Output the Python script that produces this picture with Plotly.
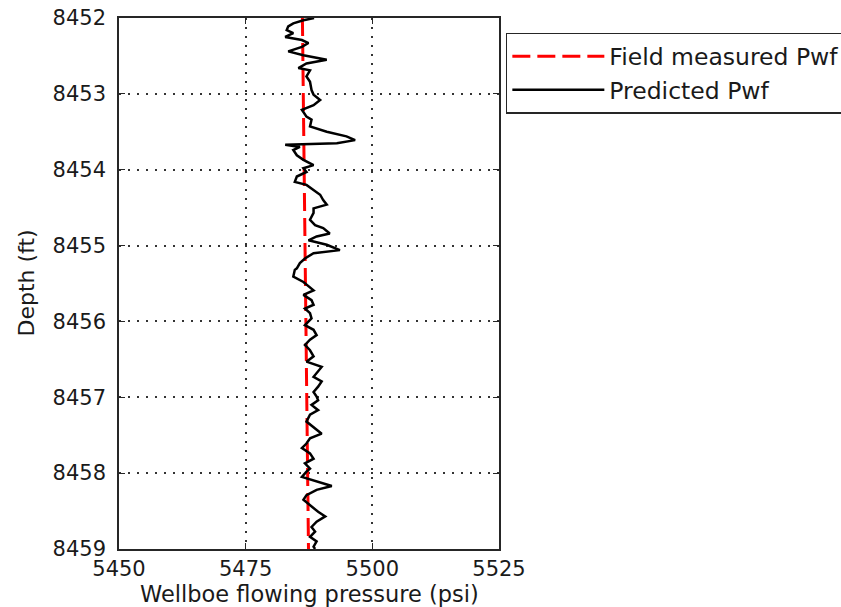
import plotly.graph_objects as go

# Predicted Pwf trace
pred_depth = [8452.00, 8452.03, 8452.07, 8452.11, 8452.16, 8452.20, 8452.25, 8452.29, 8452.33, 8452.38,
              8452.44, 8452.49, 8452.55, 8452.60, 8452.66, 8452.69, 8452.77, 8452.84, 8452.95, 8453.01,
              8453.08, 8453.15, 8453.21, 8453.30, 8453.34, 8453.43, 8453.50, 8453.56, 8453.61, 8453.65,
              8453.67, 8453.70, 8453.74, 8453.81, 8453.87, 8453.94, 8453.98, 8454.03, 8454.09, 8454.16,
              8454.20, 8454.27, 8454.33, 8454.40, 8454.46, 8454.51, 8454.57, 8454.66, 8454.73, 8454.77,
              8454.84, 8454.88, 8454.93, 8454.99, 8455.06, 8455.10, 8455.17, 8455.23, 8455.30, 8455.32,
              8455.41, 8455.48, 8455.54, 8455.59, 8455.65, 8455.72, 8455.78, 8455.83, 8455.89, 8455.96,
              8456.05, 8456.11, 8456.18, 8456.24, 8456.31, 8456.38, 8456.46, 8456.53, 8456.60, 8456.66,
              8456.73, 8456.79, 8456.86, 8456.93, 8456.99, 8457.04, 8457.10, 8457.17, 8457.23, 8457.32,
              8457.41, 8457.48, 8457.54, 8457.61, 8457.67, 8457.74, 8457.81, 8457.87, 8457.94, 8457.98,
              8458.05, 8458.11, 8458.17, 8458.22, 8458.29, 8458.35, 8458.42, 8458.51, 8458.57, 8458.64,
              8458.71, 8458.77, 8458.84, 8458.90, 8458.97, 8459.00]
pred_pwf = [5488.5, 5486.4, 5484.4, 5483.4, 5483.1, 5484.4, 5482.8, 5486.1, 5487.4, 5486.1,
            5483.4, 5486.4, 5491.0, 5487.0, 5485.4, 5487.7, 5487.0, 5487.7, 5488.0, 5488.4,
            5489.7, 5488.4, 5486.1, 5487.0, 5488.0, 5487.7, 5491.0, 5494.9, 5496.6, 5493.0,
            5482.8, 5485.7, 5484.4, 5485.1, 5486.4, 5488.4, 5486.4, 5487.0, 5485.1, 5484.7,
            5487.0, 5488.4, 5489.7, 5490.3, 5491.0, 5488.4, 5488.4, 5487.7, 5488.7, 5490.3,
            5491.6, 5489.0, 5487.4, 5491.0, 5493.6, 5488.4, 5486.7, 5485.7, 5485.1, 5484.7,
            5484.4, 5486.4, 5487.4, 5488.4, 5486.4, 5488.0, 5488.4, 5486.7, 5487.7, 5488.0,
            5486.7, 5488.4, 5489.0, 5487.7, 5486.7, 5487.7, 5488.4, 5487.0, 5490.0, 5489.3,
            5488.4, 5490.0, 5489.3, 5488.4, 5489.0, 5489.3, 5488.0, 5489.3, 5487.7, 5487.0,
            5488.7, 5490.0, 5487.7, 5487.0, 5486.1, 5487.7, 5488.4, 5486.7, 5487.7, 5487.0,
            5486.1, 5489.0, 5492.0, 5489.0, 5487.0, 5486.4, 5487.7, 5489.3, 5490.7, 5489.0,
            5488.0, 5488.7, 5487.7, 5489.0, 5488.4, 5488.7]

# Field measured Pwf
field_depth = [8452.0, 8459.0]
field_pwf = [5486.2, 5487.4]

x_ticks = [5450, 5475, 5500, 5525]
y_ticks = [8452, 8453, 8454, 8455, 8456, 8457, 8458, 8459]
x_title = "Wellboe flowing pressure (psi)"
y_title = "Depth (ft)"

FONT = "DejaVu Sans, Verdana, sans-serif"
TXT = "#1a1a1a"

fig = go.Figure()
fig.add_trace(go.Scatter(x=field_pwf, y=field_depth, mode="lines", name="Field measured Pwf",
                         line=dict(color="#ff0000", width=3, dash="18px,7px")))
fig.add_trace(go.Scatter(x=pred_pwf, y=pred_depth, mode="lines", name="Predicted Pwf",
                         line=dict(color="#000000", width=2.5)))

axis_common = dict(showline=True, linecolor="#262626", linewidth=1.5, mirror="ticks",
                   ticks="inside", ticklen=6, tickcolor="#262626",
                   showgrid=True, gridcolor="#333333", griddash="2px,7px", gridwidth=1.5,
                   zeroline=False, tickfont=dict(family=FONT, size=21, color=TXT))

fig.update_xaxes(range=[5450, 5525], tickvals=x_ticks, ticktext=[str(v) for v in x_ticks],
                 ticklabelstandoff=0, **axis_common)
fig.update_yaxes(range=[8459, 8452], tickvals=y_ticks, ticktext=[str(v) for v in y_ticks],
                 ticklabelstandoff=7, **axis_common)

# Axis titles placed as annotations so they sit exactly where the reference has them
fig.add_annotation(text=x_title, xref="paper", yref="paper", x=0.5, y=0,
                   xanchor="center", yanchor="middle", yshift=-45, showarrow=False,
                   font=dict(family=FONT, size=22.5, color=TXT))
fig.add_annotation(text=y_title, xref="paper", yref="paper", x=0, y=0.5,
                   xanchor="center", yanchor="middle", xshift=-93, textangle=-90,
                   showarrow=False, font=dict(family=FONT, size=22, color=TXT))

fig.update_layout(
    width=841, height=607,
    margin=dict(l=119, r=342, t=18, b=58, autoexpand=False),
    paper_bgcolor="white", plot_bgcolor="white",
    font=dict(family=FONT, size=21, color=TXT),
    legend=dict(x=1.018, y=0.972, xanchor="left", yanchor="top",
                bordercolor="#262626", borderwidth=1.5, bgcolor="white",
                itemwidth=92, font=dict(family=FONT, size=23.5, color=TXT),
                tracegroupgap=0),
    showlegend=True,
)

fig.write_html("out.html", config={"displayModeBar": False},
               post_script="document.body.style.margin='0';document.body.style.overflow='hidden';")
